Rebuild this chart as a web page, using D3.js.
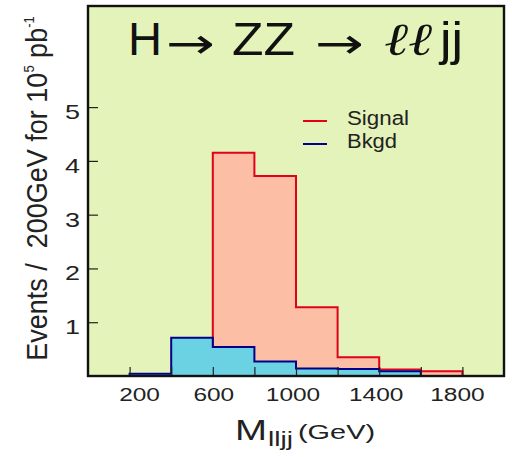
<!DOCTYPE html>
<html>
<head>
<meta charset="utf-8">
<script src="https://cdn.jsdelivr.net/npm/d3@7"></script>
<style>
  body { margin: 0; background: #ffffff; }
  text { font-family: "Liberation Sans", Arial, sans-serif; white-space: pre; }
</style>
</head>
<body>
<div id="chart"></div>
<script>
// bin edges in GeV, 200 GeV wide
var binEdges = [200, 400, 600, 800, 1000, 1200, 1400, 1600, 1800];
var signal = [0, 0, 4.15, 3.72, 1.28, 0.35, 0.12, 0.09];
var bkgd = [0.04, 0.71, 0.54, 0.27, 0.14, 0.13, 0.09, 0];
var xTicks = [200, 400, 600, 800, 1000, 1200, 1400, 1600, 1800];
var xTickLabels = [200, 600, 1000, 1400, 1800];
var yTicks = [1, 2, 3, 4, 5];

var W = 512, H = 457;
var pLeft = 88, pRight = 504, pTop = 6, pBottom = 376;

var svg = d3.select("#chart").append("svg")
  .attr("width", W)
  .attr("height", H);

var x = d3.scaleLinear().domain([0, 2000]).range([pLeft, pRight]);
var y = d3.scaleLinear().domain([0, 6.88]).range([pBottom, pTop]);

svg.append("rect")
  .attr("x", pLeft).attr("y", pTop)
  .attr("width", pRight - pLeft).attr("height", pBottom - pTop)
  .attr("fill", "#e4f3b9");

function steps(vals) {
  var pts = vals.map(function(v, i) { return [binEdges[i], v]; });
  pts.push([binEdges[binEdges.length - 1], vals[vals.length - 1]]);
  return pts;
}

var area = d3.area().curve(d3.curveStepAfter)
  .x(function(d) { return x(d[0]); })
  .y0(y(0))
  .y1(function(d) { return y(d[1]); });

var line = d3.line().curve(d3.curveStepAfter)
  .x(function(d) { return x(d[0]); })
  .y(function(d) { return y(d[1]); });

function outline(vals) {
  var pts = steps(vals);
  // close down to zero at both ends
  return [[pts[0][0], 0]].concat(pts).concat([[pts[pts.length - 1][0], 0]]);
}

svg.append("path").datum(steps(signal))
  .attr("d", area).attr("fill", "#fdbea6");
svg.append("path").datum(outline(signal))
  .attr("d", line).attr("fill", "none")
  .attr("stroke", "#e3001b").attr("stroke-width", 2);

svg.append("path").datum(steps(bkgd))
  .attr("d", area).attr("fill", "#6ad2e2");
svg.append("path").datum(outline(bkgd))
  .attr("d", line).attr("fill", "none")
  .attr("stroke", "#00008b").attr("stroke-width", 2);

// inward ticks
var xAxis = d3.axisTop(x).tickValues(xTicks).tickSize(9).tickFormat("");
svg.append("g").attr("transform", "translate(0," + pBottom + ")").call(xAxis)
  .call(function(g) { g.select(".domain").remove(); })
  .selectAll("line").attr("stroke", "#222").attr("stroke-width", 1.2);

var yAxis = d3.axisRight(y).tickValues(yTicks).tickSize(10).tickFormat("");
svg.append("g").attr("transform", "translate(" + pLeft + ",0)").call(yAxis)
  .call(function(g) { g.select(".domain").remove(); })
  .selectAll("line").attr("stroke", "#222").attr("stroke-width", 1.2);

svg.append("rect")
  .attr("x", pLeft).attr("y", pTop)
  .attr("width", pRight - pLeft).attr("height", pBottom - pTop)
  .attr("fill", "none").attr("stroke", "#111").attr("stroke-width", 2.4);

// tick labels (the picture is stretched sideways, so widths are forced)
var xNudge = [10, 1, -3, -3, -5];
svg.selectAll(".xl").data(xTickLabels).enter().append("text")
  .attr("x", function(d, i) { return x(d) + xNudge[i]; })
  .attr("y", 400.5)
  .attr("text-anchor", "middle")
  .attr("font-size", 18)
  .attr("textLength", function(d) { return String(d).length * 13.6; })
  .attr("lengthAdjust", "spacingAndGlyphs")
  .attr("fill", "#222")
  .text(function(d) { return d; });

svg.selectAll(".yl").data(yTicks).enter().append("text")
  .attr("x", 80)
  .attr("y", function(d) { return y(d) + 12; })
  .attr("text-anchor", "end")
  .attr("font-size", 21)
  .attr("textLength", 15)
  .attr("lengthAdjust", "spacingAndGlyphs")
  .attr("fill", "#222")
  .text(function(d) { return d; });

// title, laid out piece by piece; each piece is squeezed to its measured width
// (font-family goes through style, the css rule would beat the attribute)
function titlePart(str, x0, y0, w, size, family, fstyle) {
  var t = svg.append("text")
    .attr("x", 0).attr("y", 0)
    .attr("font-size", size)
    .attr("fill", "#111")
    .text(str);
  if (family) t.style("font-family", family);
  if (fstyle) t.style("font-style", fstyle);
  var cw = t.node().getComputedTextLength() || w;
  t.attr("transform", "translate(" + x0 + "," + y0 + ") scale(" + (w / cw) + ",1)");
}
titlePart("H", 128, 55, 34, 47);
titlePart("\u2192", 166, 57.5, 49, 42, "DejaVu Sans");
titlePart("ZZ", 232, 55, 63, 47);
titlePart("\u2192", 315, 57.5, 49, 42, "DejaVu Sans");
titlePart("\u2113\u2113", 384, 55, 48, 46, "DejaVu Serif", "italic");
titlePart("jj", 440, 55, 23, 47);

// legend
var legend = [["Signal", "#e3001b", 121, 62], ["Bkgd", "#00008b", 144, 50]];
legend.forEach(function(l) {
  svg.append("line")
    .attr("x1", 303).attr("x2", 327)
    .attr("y1", l[2]).attr("y2", l[2])
    .attr("stroke", l[1]).attr("stroke-width", 2);
  svg.append("text")
    .attr("x", 347).attr("y", l[2] + 4)
    .attr("font-size", 20)
    .attr("textLength", l[3])
    .attr("lengthAdjust", "spacingAndGlyphs")
    .attr("fill", "#222")
    .text(l[0]);
});

// axis titles
svg.append("text")
  .attr("x", 235).attr("y", 440)
  .attr("font-size", 30)
  .attr("textLength", 32).attr("lengthAdjust", "spacingAndGlyphs")
  .attr("fill", "#222").text("M");
svg.append("text")
  .attr("x", 268).attr("y", 446)
  .attr("font-size", 20)
  .attr("textLength", 25).attr("lengthAdjust", "spacingAndGlyphs")
  .attr("fill", "#222").text("lljj");
svg.append("text")
  .attr("x", 298).attr("y", 439)
  .attr("font-size", 20)
  .attr("textLength", 77).attr("lengthAdjust", "spacingAndGlyphs")
  .attr("fill", "#222").text("(GeV)");

var yt = svg.append("text")
  .attr("transform", "translate(47,188.5) rotate(-90) scale(1,1.1)")
  .attr("text-anchor", "middle")
  .attr("font-size", 27)
  .attr("fill", "#222");
yt.append("tspan").text("Events /  200GeV for 10");
yt.append("tspan").attr("font-size", 13).attr("dy", -12).text("5");
yt.append("tspan").attr("dy", 12).text(" pb");
yt.append("tspan").attr("font-size", 13).attr("dy", -12).text("-1");
</script>
</body>
</html>
